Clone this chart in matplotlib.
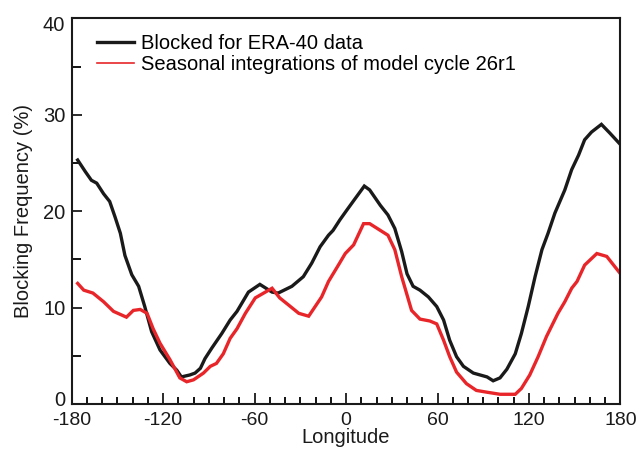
import matplotlib.pyplot as plt
from matplotlib.lines import Line2D
from matplotlib.ticker import MultipleLocator
from matplotlib.transforms import ScaledTranslation

plt.rcParams['font.family'] = ['Liberation Sans', 'DejaVu Sans']
plt.rcParams['axes.unicode_minus'] = False

# blocking frequency (%) against longitude, ERA-40 reanalysis
era_lon = [-176, -171, -167, -163.5, -159, -155, -151.5, -148, -145, -140.5,
           -136, -132, -127.5, -122, -115.5, -111, -108, -102.5, -99, -95.5,
           -92.5, -88, -81.5, -76, -71.5, -64, -56.5, -48.5, -44.5, -35.5,
           -28, -22.5, -17, -11.5, -8.5, -4, 0.5, 6, 12, 15.5, 22.5, 27.5,
           32, 36.5, 40, 44, 48.5, 54, 59.5, 64, 68, 72.5, 77, 83.5, 88,
           92.5, 96.5, 101, 105.5, 111, 115, 119.5, 124, 128.5, 132.5, 137,
           143.5, 148, 152.5, 156.5, 161, 167.5, 173, 180]
era_val = [25.3, 24.1, 23.2, 22.9, 21.8, 21.0, 19.4, 17.7, 15.4, 13.4,
           12.2, 10.1, 7.5, 5.6, 4.2, 3.5, 2.8, 3.0, 3.2, 3.7,
           4.7, 5.8, 7.3, 8.7, 9.6, 11.6, 12.4, 11.6, 11.5, 12.2,
           13.2, 14.6, 16.3, 17.5, 18.0, 19.1, 20.1, 21.3, 22.6, 22.2, 20.6, 19.6,
           18.2, 15.8, 13.5, 12.2, 11.8, 11.1, 10.1, 8.7, 6.6, 4.9, 3.9, 3.2, 3.0,
           2.8, 2.4, 2.7, 3.6, 5.2, 7.3, 10.1, 13.2, 16.0, 17.7, 19.8,
           22.2, 24.3, 25.8, 27.4, 28.2, 29.0, 28.1, 26.9]

# seasonal integrations, model cycle 26r1
mod_lon = [-176, -172, -166, -159, -152.5, -144, -139.5, -135, -130.5, -126.5,
           -122, -115.5, -109, -104.5, -100, -93.5, -89, -85, -80.5, -76,
           -71.5, -66, -59.5, -54, -48.5, -43.5, -38, -31, -24.5, -16,
           -11.5, -5, -0.5, 5, 11.5, 15.5, 27.5, 32, 36.5, 43, 48.5, 55,
           59.5, 64, 68, 72.5, 79, 85.5, 93, 101, 111, 115, 120.5, 126,
           131.5, 139, 143.5, 148, 151.5, 156.5, 164.5, 171, 180]
mod_val = [12.5, 11.8, 11.5, 10.6, 9.6, 9.0, 9.7, 9.8, 9.4, 7.8,
           6.3, 4.6, 2.7, 2.3, 2.5, 3.2, 3.9, 4.2, 5.2, 6.8,
           7.8, 9.4, 11.0, 11.5, 12.0, 11.0, 10.3, 9.4, 9.1, 11.1,
           12.7, 14.4, 15.6, 16.5, 18.7, 18.7, 17.5, 16.0, 13.2, 9.7, 8.8, 8.6,
           8.3, 6.6, 4.9, 3.3, 2.1, 1.4, 1.2, 1.0, 1.0, 1.6, 3.0, 4.9,
           7.0, 9.4, 10.6, 12.0, 12.7, 14.4, 15.6, 15.3, 13.5]

black = '#1a1a1a'
red = '#e8262a'
fs = 14.5

fig = plt.figure(figsize=(6.39, 4.49), dpi=100)
ax = fig.add_axes([0.112, 0.1004, 0.859, 0.8588])

ax.plot(era_lon, era_val, color=black, lw=2.4, solid_joinstyle='miter')
ax.plot(mod_lon, mod_val, color=red, lw=2.4, solid_joinstyle='miter')

ax.set_xlim(-180, 180)
ax.set_ylim(0, 40)
ax.xaxis.set_major_locator(MultipleLocator(60))
ax.xaxis.set_minor_locator(MultipleLocator(10))
ax.yaxis.set_major_locator(MultipleLocator(10))
ax.yaxis.set_minor_locator(MultipleLocator(5))

for s in ax.spines.values():
    s.set_linewidth(1.5)
    s.set_color(black)

ax.tick_params(axis='x', which='major', direction='in', length=8, width=1.3,
               labelsize=14, pad=5.5, colors=black)
ax.tick_params(axis='x', which='minor', direction='in', length=5, width=1.3)
ax.tick_params(axis='y', which='major', direction='in', length=7.5, width=1.3,
               labelsize=fs, pad=4.5, colors=black)
ax.tick_params(axis='y', which='minor', direction='in', length=6.5, width=1.3)

ax.set_xlabel('Longitude', fontsize=fs, labelpad=-0.3, color=black)
ax.set_ylabel('Blocking Frequency (%)', fontsize=fs, labelpad=7, color=black)

handles = [Line2D([], [], color=black, lw=2.4),
           Line2D([], [], color=red, lw=1.2)]
ax.legend(handles, ['Blocked for ERA-40 data',
                    'Seasonal integrations of model cycle 26r1'],
          loc='upper left', bbox_to_anchor=(0.02, 0.995), frameon=False,
          fontsize=fs, handlelength=1.85, handletextpad=0.35,
          labelspacing=0.1, borderaxespad=0.3)

# draw once so every tick exists, then nudge the two end labels of the
# y axis inward so they clear the corners
fig.canvas.draw()
for t in ax.yaxis.get_major_ticks():
    loc = t.get_loc()
    if loc == 0:
        shift = 0.05
    elif loc == 40:
        shift = -0.05
    else:
        continue
    t.label1.set_transform(t.label1.get_transform() +
                           ScaledTranslation(0, shift, fig.dpi_scale_trans))

fig.savefig('out.png', dpi=100)
